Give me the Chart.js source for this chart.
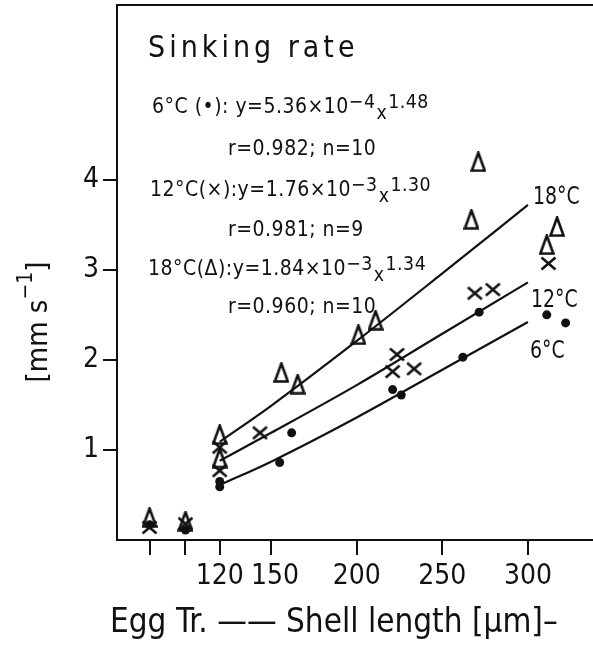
<!DOCTYPE html>
<html>
<head>
<meta charset="utf-8">
<script src="https://cdn.jsdelivr.net/npm/chart.js@4.4.0/dist/chart.umd.min.js"></script>
<style>
  html, body { margin: 0; padding: 0; background: #fff; }
  #wrap { width: 593px; height: 645px; }
</style>
</head>
<body>
<div id="wrap"><canvas id="myChart"></canvas></div>
<script>
const FONT = "'DejaVu Sans Condensed', 'DejaVu Sans', sans-serif";

// x positions of the two left categories (egg, trochophore) on the length axis
const xTickValues = [79, 100, 120, 150, 200, 250, 300];
const xTickLabels = ['', '', '120', ' 150', '200', '250', '300'];
const yTickValues = [1, 2, 3, 4];

// 6 °C (dots)
const x6 = [79, 100, 120, 120, 155, 162, 221, 226, 262, 271.5, 311, 322];
const y6 = [0.17, 0.11, 0.59, 0.65, 0.86, 1.19, 1.67, 1.61, 2.03, 2.53, 2.50, 2.41];
// 12 °C (crosses)
const x12 = [79, 100, 120, 120, 143.5, 221, 223.5, 233.5, 269, 279.5, 312];
const y12 = [0.14, 0.18, 1.03, 0.77, 1.19, 1.87, 2.06, 1.90, 2.74, 2.78, 3.07];
// 18 °C (triangles)
const x18 = [79, 100, 120, 120, 156, 165.5, 201, 211, 267, 271, 311, 317];
const y18 = [0.25, 0.21, 1.17, 0.91, 1.86, 1.73, 2.28, 2.44, 3.56, 4.20, 3.28, 3.48];

// fitted curves
const fitX = [120, 150, 200, 250, 300];
const fit6 = [0.61, 0.87, 1.36, 1.89, 2.42];
const fit12 = [0.88, 1.19, 1.72, 2.29, 2.86];
const fit18 = [1.09, 1.49, 2.21, 2.96, 3.72];

const pts = (xs, ys) => xs.map((x, i) => ({ x: x, y: ys[i] }));

// marker images
function triMarker() {
  const c = document.createElement('canvas');
  c.width = 16; c.height = 21;
  const g = c.getContext('2d');
  g.strokeStyle = '#111'; g.lineWidth = 2.6; g.lineJoin = 'miter';
  g.beginPath();
  g.moveTo(8, 1.5); g.lineTo(14.5, 19.5); g.lineTo(1.5, 19.5); g.closePath();
  g.stroke();
  return c;
}
function crossMarker() {
  const c = document.createElement('canvas');
  c.width = 17; c.height = 15;
  const g = c.getContext('2d');
  g.strokeStyle = '#111'; g.lineWidth = 2.5;
  g.beginPath();
  g.moveTo(1.5, 1.5); g.lineTo(15.5, 13.5);
  g.moveTo(15.5, 1.5); g.lineTo(1.5, 13.5);
  g.stroke();
  return c;
}

// draws text segments: [text, kind] kind = n | sup | low
function rich(ctx, x, y, size, parts) {
  let cx = x;
  parts.forEach(p => {
    let s = size, dy = 0;
    if (p[1] === 'sup') { s = size * 0.92; dy = -size * 0.22; }
    if (p[1] === 'low') { s = size * 0.92; dy = size * 0.3; }
    ctx.font = s + 'px ' + FONT;
    ctx.fillText(p[0], cx, y + dy);
    cx += ctx.measureText(p[0]).width + (p[1] === 'n' ? 0 : 1);
  });
}

// text squeezed horizontally to imitate the narrow lettering
function narrow(ctx, str, x, y, size, sx) {
  ctx.save();
  ctx.translate(x, y);
  ctx.scale(sx, 1);
  ctx.font = size + 'px ' + FONT;
  ctx.fillText(str, 0, 0);
  ctx.restore();
}

const textPlugin = {
  id: 'texts',
  afterDraw(chart) {
    const ctx = chart.ctx;
    const a = chart.chartArea;
    ctx.save();
    // top frame line
    ctx.strokeStyle = '#111';
    ctx.lineWidth = 2;
    ctx.beginPath();
    ctx.moveTo(a.left, a.top);
    ctx.lineTo(a.right, a.top);
    ctx.stroke();

    ctx.fillStyle = '#111';
    ctx.textBaseline = 'alphabetic';
    ctx.textAlign = 'left';
    ctx.letterSpacing = '4px';
    ctx.font = '30px ' + FONT;
    ctx.fillText('Sinking rate', 148, 57);

    ctx.letterSpacing = '0.5px';
    const f = 21;
    rich(ctx, 152, 113, f, [['6°C (•): y=5.36×10', 'n'], ['−4', 'sup'], ['x', 'low'], ['1.48', 'sup']]);
    rich(ctx, 228, 155, f, [['r=0.982; n=10', 'n']]);
    rich(ctx, 150, 196, f, [['12°C(×):y=1.76×10', 'n'], ['−3', 'sup'], ['x', 'low'], ['1.30', 'sup']]);
    rich(ctx, 228, 236, f, [['r=0.981; n=9', 'n']]);
    rich(ctx, 148, 275, f, [['18°C(Δ):y=1.84×10', 'n'], ['−3', 'sup'], ['x', 'low'], ['1.34', 'sup']]);
    rich(ctx, 228, 313, f, [['r=0.960; n=10', 'n']]);

    // curve labels
    ctx.letterSpacing = '0px';
    narrow(ctx, '18°C', 533, 204, 25, 0.84);
    narrow(ctx, '12°C', 531, 307, 25, 0.84);
    narrow(ctx, '6°C', 530, 358, 25, 0.84);

    // axis titles
    ctx.font = '33px ' + FONT;
    ctx.fillText('Egg Tr. —— Shell length [µm]–', 110, 632);

    ctx.translate(47, 322);
    ctx.rotate(-Math.PI / 2);
    ctx.font = '29px ' + FONT;
    const w1 = ctx.measureText('[mm s').width;
    ctx.font = '21px ' + FONT;
    const w2 = ctx.measureText('−1').width;
    ctx.font = '29px ' + FONT;
    const w3 = ctx.measureText(']').width;
    const x0 = -(w1 + w2 + w3) / 2;
    ctx.fillText('[mm s', x0, 0);
    ctx.font = '21px ' + FONT;
    ctx.fillText('−1', x0 + w1, -15);
    ctx.font = '29px ' + FONT;
    ctx.fillText(']', x0 + w1 + w2, 0);
    ctx.restore();
  }
};

const black = '#111';
const curve = (data) => ({
  type: 'line',
  data: pts(fitX, data),
  borderColor: black,
  borderWidth: 2.2,
  pointRadius: 0,
  fill: false,
  cubicInterpolationMode: 'monotone'
});

new Chart(document.getElementById('myChart'), {
  type: 'scatter',
  data: {
    datasets: [
      curve(fit6), curve(fit12), curve(fit18),
      { data: pts(x18, y18), pointStyle: triMarker(), pointRadius: 8 },
      { data: pts(x12, y12), pointStyle: crossMarker(), pointRadius: 8 },
      { data: pts(x6, y6), pointStyle: 'circle', pointRadius: 4.5, backgroundColor: black, borderColor: black, borderWidth: 0 }
    ]
  },
  options: {
    responsive: true,
    maintainAspectRatio: false,
    animation: false,
    layout: { autoPadding: false, padding: { top: 5, right: 0, left: 0, bottom: 0 } },
    plugins: { legend: { display: false }, tooltip: { enabled: false } },
    scales: {
      x: {
        type: 'linear',
        min: 60,
        max: 338,
        afterBuildTicks: s => { s.ticks = xTickValues.map(v => ({ value: v })); },
        afterFit: s => { s.height = 105; s.paddingLeft = 0; s.paddingRight = 0; },
        ticks: {
          autoSkip: false,
          maxRotation: 0,
          padding: 5,
          color: black,
          font: { family: FONT, size: 28 },
          callback: (v) => xTickLabels[xTickValues.indexOf(v)]
        },
        grid: { drawOnChartArea: false, drawTicks: true, tickLength: 15, color: black, lineWidth: 2 },
        border: { display: true, color: black, width: 2 }
      },
      y: {
        type: 'linear',
        min: 0,
        max: 5.94,
        afterBuildTicks: s => { s.ticks = yTickValues.map(v => ({ value: v })); },
        afterFit: s => { s.width = 117; s.paddingTop = 0; s.paddingBottom = 0; },
        ticks: {
          padding: 4,
          color: black,
          font: { family: FONT, size: 28 }
        },
        grid: { drawOnChartArea: false, drawTicks: true, tickLength: 14, color: black, lineWidth: 2 },
        border: { display: true, color: black, width: 2 }
      }
    }
  },
  plugins: [textPlugin]
});
</script>
</body>
</html>
